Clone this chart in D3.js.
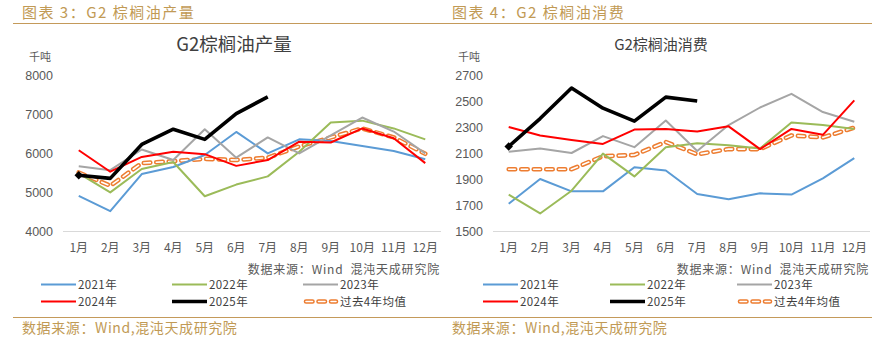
<!DOCTYPE html>
<html lang="zh">
<head>
<meta charset="utf-8">
<script src="https://cdn.jsdelivr.net/npm/d3@7"></script>
<style>
    html, body { margin: 0; padding: 0; background: #fff; }
    svg { display: block; }
    text { font-family: "Noto Sans CJK SC", "Liberation Sans", sans-serif; }
    .num { font-family: "Liberation Sans", Arial, sans-serif; }
</style>
</head>
<body>
<div id="chart"></div>
<script>
    // Month categories shared by both panels
    const months = ["1月", "2月", "3月", "4月", "5月", "6月", "7月", "8月", "9月", "10月", "11月", "12月"];

    // Production (千吨)
    const prod2021 = [4900, 4510, 5460, 5640, 5950, 6540, 5990, 6350, 6310, 6180, 6050, 5840];
    const prod2022 = [5480, 4990, 5590, 5770, 4890, 5190, 5400, 6030, 6780, 6830, 6630, 6350];
    const prod2023 = [5660, 5560, 6090, 5820, 6610, 5880, 6400, 5990, 6450, 6910, 6550, 5990];
    const prod2024 = [6070, 5520, 5900, 6030, 5970, 5670, 5820, 6290, 6270, 6630, 6380, 5740];
    const prod2025 = [5430, 5350, 6220, 6610, 6350, 7010, 7440];
    const prodAvg  = [5500, 5160, 5740, 5790, 5850, 5820, 5880, 6170, 6400, 6630, 6400, 5980];
    const prodTicks = [4000, 5000, 6000, 7000, 8000];

    // Consumption (千吨)
    const cons2021 = [1710, 1900, 1805, 1805, 1990, 1965, 1785, 1745, 1790, 1780, 1905, 2060];
    const cons2022 = [1780, 1635, 1810, 2095, 1920, 2145, 2175, 2160, 2135, 2335, 2315, 2285];
    const cons2023 = [2110, 2135, 2100, 2230, 2145, 2350, 2115, 2315, 2450, 2555, 2415, 2340];
    const cons2024 = [2300, 2235, 2200, 2170, 2280, 2285, 2265, 2305, 2130, 2285, 2240, 2505];
    const cons2025 = [2150, 2365, 2600, 2445, 2345, 2530, 2500];
    const consAvg  = [1975, 1975, 1975, 2075, 2085, 2185, 2090, 2130, 2130, 2235, 2220, 2295];
    const consTicks = [1500, 1700, 1900, 2100, 2300, 2500, 2700];

    const seriesNames = ["2021年", "2022年", "2023年", "2024年", "2025年", "过去4年均值"];
    const colors = ["#5b9bd5", "#9bbb59", "#a5a5a5", "#ff0000", "#000000", "#ed7d31"];

    const W = 880, H = 337;
    const gold = "#c49a5a";

    const svg = d3.select("#chart").append("svg")
        .attr("width", W)
        .attr("height", H);

    // Top and bottom rules
    svg.append("line").attr("x1", 13).attr("x2", 872).attr("y1", 23.5).attr("y2", 23.5)
        .attr("stroke", gold).attr("stroke-width", 1.2);
    svg.append("line").attr("x1", 13).attr("x2", 872).attr("y1", 317.5).attr("y2", 317.5)
        .attr("stroke", gold).attr("stroke-width", 1.2);

    function drawPanel(opt) {
        const g = svg.append("g");

        // Caption above the rule
        g.append("text")
            .attr("x", opt.left + 9).attr("y", 18)
            .attr("fill", "#c19a55")
            .attr("font-size", 15)
            .attr("letter-spacing", 1.5)
            .text(opt.caption);

        // Chart title and unit
        g.append("text")
            .attr("x", opt.titleX).attr("y", opt.titleY)
            .attr("text-anchor", "middle")
            .attr("fill", "#404040")
            .attr("font-size", opt.titleSize)
            .text(opt.title);
        g.append("text")
            .attr("x", opt.unitX).attr("y", 61)
            .attr("fill", "#595959")
            .attr("font-size", 11)
            .text("千吨");

        const x = d3.scalePoint()
            .domain(months)
            .range(opt.xRange)
            .padding(0.5);
        const y = d3.scaleLinear()
            .domain(opt.yDomain)
            .range([231, 75]);

        // Baseline
        g.append("line")
            .attr("x1", opt.xRange[0]).attr("x2", opt.xRange[1])
            .attr("y1", 231.5).attr("y2", 231.5)
            .attr("stroke", "#d9d9d9").attr("stroke-width", 1);

        // Y tick labels
        g.selectAll(".ytick")
            .data(opt.ticks)
            .enter().append("text")
            .attr("class", "num")
            .attr("x", opt.xRange[0] - 10)
            .attr("y", d => y(d) + 4.5)
            .attr("text-anchor", "end")
            .attr("fill", "#595959")
            .attr("font-size", 12.5)
            .text(d => d);

        // X tick labels
        g.selectAll(".xtick")
            .data(months)
            .enter().append("text")
            .attr("x", d => x(d))
            .attr("y", 252)
            .attr("text-anchor", "middle")
            .attr("fill", "#595959")
            .attr("font-size", 12)
            .text(d => d);

        const line = d3.line()
            .x((d, i) => x(months[i]))
            .y(d => y(d));

        // Average: orange dashed outline with white core
        g.append("path")
            .attr("d", line(opt.avg))
            .attr("fill", "none")
            .attr("stroke", colors[5])
            .attr("stroke-width", 4.6)
            .attr("stroke-linecap", "round")
            .attr("stroke-dasharray", "6.5,6");
        g.append("path")
            .attr("d", line(opt.avg))
            .attr("fill", "none")
            .attr("stroke", "#fff")
            .attr("stroke-width", 1.6)
            .attr("stroke-linecap", "round")
            .attr("stroke-dasharray", "6.5,6");

        opt.series.forEach((s, i) => {
            g.append("path")
                .attr("d", line(s))
                .attr("fill", "none")
                .attr("stroke", colors[i])
                .attr("stroke-width", i === 4 ? 3.6 : 2)
                .attr("stroke-linejoin", "round");
        });

        // Small marker at the start of 2025
        const s25 = opt.series[4];
        g.append("rect")
            .attr("x", -3).attr("y", -3).attr("width", 6).attr("height", 6)
            .attr("transform", `translate(${x(months[0])},${y(s25[0])}) rotate(45)`)
            .attr("fill", "#000");

        // Source note inside the chart
        g.append("text")
            .attr("x", opt.xRange[1] - 1).attr("y", 274)
            .attr("text-anchor", "end")
            .attr("fill", "#595959")
            .attr("font-size", 12)
            .attr("letter-spacing", 0.8)
            .attr("xml:space", "preserve")
            .text("数据来源：Wind  混沌天成研究院");

        // Legend
        const cols = opt.legendX;
        seriesNames.forEach((name, i) => {
            const lx = cols[i % 3];
            const ly = i < 3 ? 284.5 : 301.5;
            if (i === 5) {
                g.append("line")
                    .attr("x1", lx + 3).attr("x2", lx + 33).attr("y1", ly).attr("y2", ly)
                    .attr("stroke", colors[5]).attr("stroke-width", 4.6)
                    .attr("stroke-linecap", "round").attr("stroke-dasharray", "6.5,6");
                g.append("line")
                    .attr("x1", lx + 3).attr("x2", lx + 33).attr("y1", ly).attr("y2", ly)
                    .attr("stroke", "#fff").attr("stroke-width", 1.6)
                    .attr("stroke-linecap", "round").attr("stroke-dasharray", "6.5,6");
            } else {
                g.append("line")
                    .attr("x1", lx).attr("x2", lx + 35).attr("y1", ly).attr("y2", ly)
                    .attr("stroke", colors[i])
                    .attr("stroke-width", i === 4 ? 3.6 : 2.2);
            }
            g.append("text")
                .attr("x", lx + 37).attr("y", ly + 4.3)
                .attr("fill", "#404040")
                .attr("font-size", 11.5)
                .attr("letter-spacing", 0.4)
                .text(name);
        });

        // Source below the bottom rule
        g.append("text")
            .attr("x", opt.left + 9).attr("y", 333)
            .attr("fill", "#c19a55")
            .attr("font-size", 14)
            .attr("letter-spacing", 0.6)
            .text("数据来源：Wind,混沌天成研究院");
    }

    drawPanel({
        left: 13,
        caption: "图表 3：G2 棕榈油产量",
        title: "G2棕榈油产量",
        titleX: 234, titleY: 51, titleSize: 18.5,
        unitX: 29,
        xRange: [63, 441],
        yDomain: [4000, 8000],
        ticks: prodTicks,
        series: [prod2021, prod2022, prod2023, prod2024, prod2025],
        avg: prodAvg,
        legendX: [41, 172, 303]
    });

    drawPanel({
        left: 443,
        caption: "图表 4：G2 棕榈油消费",
        title: "G2棕榈油消费",
        titleX: 661, titleY: 50, titleSize: 15,
        unitX: 458,
        xRange: [493, 870],
        yDomain: [1500, 2700],
        ticks: consTicks,
        series: [cons2021, cons2022, cons2023, cons2024, cons2025],
        avg: consAvg,
        legendX: [483, 610, 737]
    });
</script>
</body>
</html>
